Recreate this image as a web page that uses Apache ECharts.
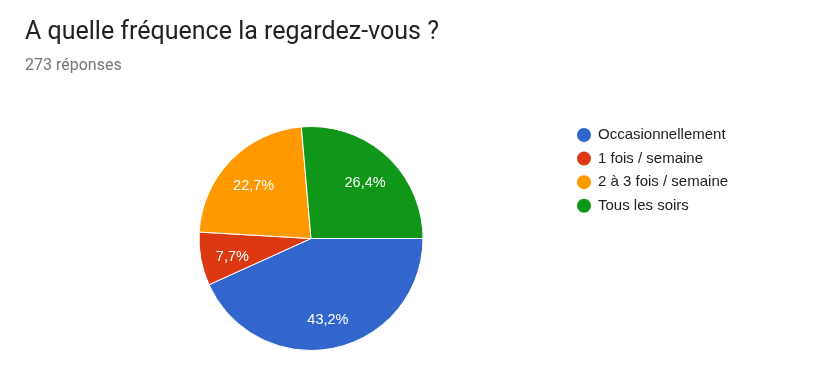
<!DOCTYPE html>
<html><head><meta charset="utf-8">
<script src="https://cdn.jsdelivr.net/npm/echarts@6/dist/echarts.min.js"></script>
<style>html,body{margin:0;padding:0;background:#fff}#c{width:840px;height:389px}</style>
</head><body><div id="c"></div>
<script>
const categories = ['Occasionnellement', '1 fois / semaine', '2 à 3 fois / semaine', 'Tous les soirs'];
const counts = [118, 21, 62, 72];
const colors = ['#3366cc', '#dc3912', '#ff9900', '#109618'];
const titleText = 'A quelle fréquence la regardez-vous ?';
const subtitleText = '273 réponses';

const total = counts.reduce((a, b) => a + b, 0);
const data = categories.map((n, i) => ({ name: n, value: counts[i], itemStyle: { color: colors[i] } }));
const fmt = p => (p.value / total * 100).toFixed(1).replace('.', ',') + '%';

const chart = echarts.init(document.getElementById('c'), null, { renderer: 'canvas' });
chart.setOption({
  animation: false,
  title: [
    {
      text: titleText,
      left: 25, top: 20, padding: 0,
      textStyle: { fontFamily: 'Roboto', fontSize: 25, fontWeight: 'normal', color: '#202124' }
    },
    {
      text: subtitleText,
      left: 25, top: 58, padding: 0,
      textStyle: { fontFamily: 'Roboto', fontSize: 16, fontWeight: 'normal', color: '#757575' }
    }
  ],
  legend: {
    orient: 'vertical',
    left: 575, top: 126, padding: 0,
    icon: 'circle',
    itemWidth: 16, itemHeight: 16,
    itemGap: 5.6,
    data: categories,
    textStyle: { fontFamily: 'Liberation Sans', fontSize: 15, color: '#222222', padding: [0, 0, 0, 1] }
  },
  series: [
    {
      type: 'pie',
      center: [311, 238.5],
      radius: [0, 112],
      startAngle: 0,
      clockwise: true,
      data: data,
      label: { show: false },
      labelLine: { show: false },
      itemStyle: { borderColor: '#ffffff', borderWidth: 1 },
      emphasis: { disabled: true }
    },
    {
      type: 'pie',
      silent: true,
      center: [311, 242],
      radius: [42, 112],
      startAngle: 0,
      clockwise: true,
      legendHoverLink: false,
      data: categories.map((n, i) => ({ name: n, value: counts[i] })),
      itemStyle: { color: 'rgba(0,0,0,0)' },
      label: {
        show: true, position: 'inside', formatter: fmt,
        fontFamily: 'Liberation Sans', fontSize: 14.5, color: '#ffffff'
      },
      labelLine: { show: false },
      emphasis: { disabled: true }
    }
  ]
});
</script></body></html>
